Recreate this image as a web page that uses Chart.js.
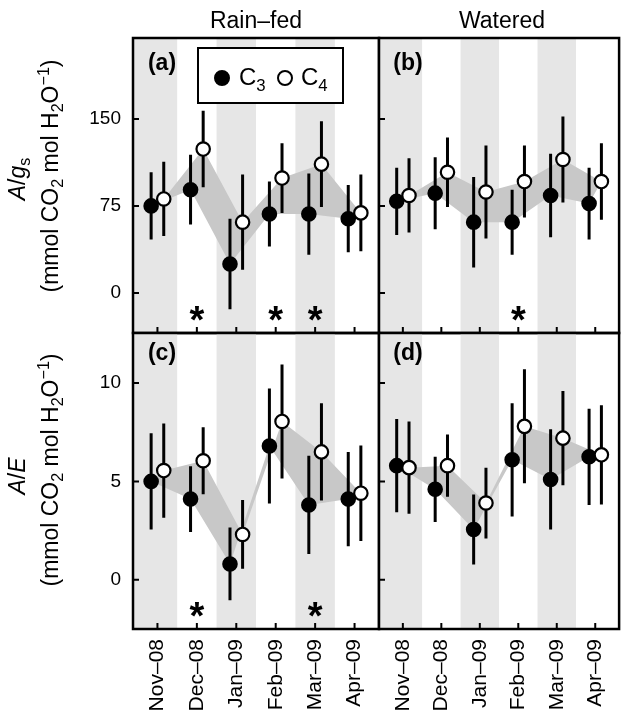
<!DOCTYPE html>
<html>
<head>
<meta charset="utf-8">
<script src="https://cdn.jsdelivr.net/npm/chart.js@4.4.0/dist/chart.umd.min.js"></script>
<style>
  body { margin: 0; background: #fff; }
  #wrap { position: relative; width: 628px; height: 719px; overflow: hidden;
          font-family: 'Liberation Sans', Arial, Helvetica, sans-serif; color: #000; }
  canvas { position: absolute; left: 0; top: 0; }
  .lbl { position: absolute; white-space: nowrap; line-height: 1; transform: translate(-50%, -50%); }
  .rot { transform: translate(-50%, -50%) rotate(-90deg); }
  .big { font-size: 23px; }
  .panel { font-size: 23px; font-weight: bold; }
  sub, sup { font-size: 70%; line-height: 0; }
  #legend { position: absolute; left: 197px; top: 47px; width: 147px; height: 57px;
            box-sizing: border-box; border: 2px solid #000; background: #fff; }
  #legend .dot { position: absolute; top: 21px; width: 16px; height: 16px; border-radius: 50%;
                 box-sizing: border-box; border: 2px solid #000; }
  #legend .txt { position: absolute; top: 16px; font-size: 24px; line-height: 1; }
</style>
</head>
<body>
<div id="wrap">
  <canvas id="chartA" width="628" height="719"></canvas>
  <canvas id="chartB" width="628" height="719"></canvas>
  <canvas id="chartC" width="628" height="719"></canvas>
  <canvas id="chartD" width="628" height="719"></canvas>

  <div class="lbl big" style="left:256px;top:20px">Rain–fed</div>
  <div class="lbl big" style="left:502px;top:20px">Watered</div>

  <div class="lbl rot big" style="left:17px;top:179px"><i>A</i>/<i>g</i><sub>s</sub></div>
  <div class="lbl rot big" style="left:50px;top:176px">(mmol CO<sub>2</sub> mol H<sub>2</sub>O<sup>−1</sup>)</div>
  <div class="lbl rot big" style="left:17px;top:476px"><i>A</i>/<i>E</i></div>
  <div class="lbl rot big" style="left:50px;top:470px">(mmol CO<sub>2</sub> mol H<sub>2</sub>O<sup>−1</sup>)</div>

  <div class="lbl panel" style="left:162px;top:62px">(a)</div>
  <div class="lbl panel" style="left:408px;top:62px">(b)</div>
  <div class="lbl panel" style="left:162px;top:352px">(c)</div>
  <div class="lbl panel" style="left:408px;top:352px">(d)</div>

  <div id="legend">
    <div class="dot" style="left:15px;background:#000"></div>
    <div class="txt" style="left:40px">C<sub>3</sub></div>
    <div class="dot" style="left:78px;background:#fff"></div>
    <div class="txt" style="left:102px">C<sub>4</sub></div>
  </div>
</div>

<script>
// month labels, and which months get a grey stripe
const months = ['Nov–08', 'Dec–08', 'Jan–09', 'Feb–09', 'Mar–09', 'Apr–09'];
const shadedMonths = [0, 2, 4];

// A/gs, rain-fed (a)
const agsRainC3 = [75, 89, 25, 68, 68, 64];
const agsRainC3Err = [29, 30, 39, 28, 35, 29];
const agsRainC4 = [81, 124, 61, 99, 111, 69];
const agsRainC4Err = [32, 33, 41, 30, 37, 33];
const agsRainStars = [1, 3, 4];

// A/gs, watered (b)
const agsWetC3 = [79, 86, 61, 61, 84, 77];
const agsWetC3Err = [29, 31, 39, 28, 36, 31];
const agsWetC4 = [84, 104, 87, 96, 115, 96];
const agsWetC4Err = [32, 30, 40, 31, 37, 33];
const agsWetStars = [3];

// A/E, rain-fed (c)
const aeRainC3 = [5.0, 4.1, 0.8, 6.8, 3.8, 4.1];
const aeRainC3Err = [2.45, 1.67, 1.85, 2.93, 2.5, 2.4];
const aeRainC4 = [5.55, 6.05, 2.3, 8.05, 6.5, 4.4];
const aeRainC4Err = [2.4, 1.7, 1.75, 2.9, 2.47, 2.43];
const aeRainStars = [1, 4];

// A/E, watered (d)
const aeWetC3 = [5.8, 4.6, 2.55, 6.1, 5.1, 6.25];
const aeWetC3Err = [2.37, 1.66, 1.78, 2.88, 2.55, 2.45];
const aeWetC4 = [5.7, 5.8, 3.9, 7.8, 7.2, 6.35];
const aeWetC4Err = [2.35, 1.58, 1.8, 2.9, 2.4, 2.52];
const aeWetStars = [];

const agsTicks = [0, 75, 150];
const aeTicks = [0, 5, 10];

const OFFSET = 0.16; // C3 sits left of the month, C4 right

Chart.defaults.font.family = "'Liberation Sans', Arial, Helvetica, sans-serif";
Chart.defaults.color = '#000';

function toPoints(vals, dx) {
  return vals.map((v, i) => ({ x: i + dx, y: v }));
}

// vertical bars, broken with null so one dataset holds them all
function toErrBars(vals, errs, dx) {
  const out = [];
  vals.forEach((v, i) => {
    out.push({ x: i + dx, y: v - errs[i] }, { x: i + dx, y: v + errs[i] }, { x: i + dx, y: null });
  });
  return out;
}

// stripes, grey band between the means, inward ticks, frame and asterisks
const panelDeco = {
  id: 'panelDeco',
  beforeDatasetsDraw(chart, args, opts) {
    const { ctx, chartArea: a, scales: { x, y } } = chart;
    ctx.save();
    ctx.fillStyle = '#e6e6e6';
    opts.shaded.forEach(i => {
      const l = Math.max(a.left, x.getPixelForValue(i === 0 ? x.min : i - 0.5));
      const r = Math.min(a.right, x.getPixelForValue(i + 0.5));
      ctx.fillRect(l, a.top, r - l, a.bottom - a.top);
    });
    ctx.fillStyle = '#c8c8c8';
    ctx.beginPath();
    opts.c3.forEach((v, i) => {
      const px = x.getPixelForValue(i - OFFSET), py = y.getPixelForValue(v);
      if (i === 0) ctx.moveTo(px, py); else ctx.lineTo(px, py);
    });
    for (let i = opts.c4.length - 1; i >= 0; i--) {
      ctx.lineTo(x.getPixelForValue(i + OFFSET), y.getPixelForValue(opts.c4[i]));
    }
    ctx.closePath();
    ctx.fill();
    ctx.restore();
  },
  afterDatasetsDraw(chart, args, opts) {
    const { ctx, chartArea: a, scales: { x, y } } = chart;
    ctx.save();
    ctx.strokeStyle = '#000';
    ctx.lineWidth = 2;
    ctx.beginPath();
    months.forEach((m, i) => {
      const px = x.getPixelForValue(i);
      ctx.moveTo(px, a.bottom);
      ctx.lineTo(px, a.bottom - 6);
    });
    opts.yTicks.forEach(v => {
      const py = y.getPixelForValue(v);
      ctx.moveTo(a.left, py);
      ctx.lineTo(a.left + 6, py);
    });
    ctx.stroke();
    ctx.lineWidth = 2.5;
    ctx.strokeRect(a.left, a.top, a.right - a.left, a.bottom - a.top);

    ctx.fillStyle = '#000';
    ctx.font = "bold 38px 'Liberation Sans', Arial, sans-serif";
    ctx.textAlign = 'center';
    ctx.textBaseline = 'alphabetic';
    const m = ctx.measureText('*');
    const shift = (m.actualBoundingBoxAscent - m.actualBoundingBoxDescent) / 2;
    opts.stars.forEach(i => {
      ctx.fillText('*', x.getPixelForValue(i), a.bottom - 20 + shift);
    });
    ctx.restore();
  }
};

function makePanel(id, cfg) {
  const datasets = [
    { data: toPoints(cfg.c4, OFFSET), order: 0, pointRadius: 6.7, pointHoverRadius: 6.7,
      pointBackgroundColor: '#fff', pointBorderColor: '#000', pointBorderWidth: 2.2 },
    { data: toErrBars(cfg.c4, cfg.c4Err, OFFSET), order: 1, showLine: true, spanGaps: false,
      borderColor: '#000', borderWidth: 3, pointRadius: 0, pointHoverRadius: 0, fill: false },
    { data: toPoints(cfg.c3, -OFFSET), order: 2, pointRadius: 6.7, pointHoverRadius: 6.7,
      pointBackgroundColor: '#000', pointBorderColor: '#000', pointBorderWidth: 2.2 },
    { data: toErrBars(cfg.c3, cfg.c3Err, -OFFSET), order: 3, showLine: true, spanGaps: false,
      borderColor: '#000', borderWidth: 3, pointRadius: 0, pointHoverRadius: 0, fill: false }
  ];
  return new Chart(document.getElementById(id), {
    type: 'scatter',
    data: { datasets },
    plugins: [panelDeco],
    options: {
      responsive: false,
      animation: false,
      devicePixelRatio: 1,
      events: [],
      layout: { padding: cfg.padding },
      plugins: {
        legend: { display: false },
        tooltip: { enabled: false },
        panelDeco: { shaded: shadedMonths, c3: cfg.c3, c4: cfg.c4, stars: cfg.stars, yTicks: cfg.yTicks }
      },
      scales: {
        x: {
          type: 'linear', min: -0.62, max: 5.62, display: cfg.showX,
          afterBuildTicks: s => { s.ticks = months.map((m, i) => ({ value: i })); },
          afterFit: s => {
            s.height = cfg.showX ? 90 : 0;
            s.paddingLeft = 0; s.paddingRight = 0;
          },
          grid: { display: false, drawTicks: false },
          border: { display: false },
          ticks: { autoSkip: false, minRotation: 90, maxRotation: 90, padding: 10,
                   font: { size: 21 }, callback: v => months[v] }
        },
        y: {
          type: 'linear', min: cfg.yMin, max: cfg.yMax, display: cfg.showY,
          afterBuildTicks: s => { s.ticks = cfg.yTicks.map(v => ({ value: v })); },
          afterFit: s => {
            s.width = cfg.showY ? 133 : 0;
            s.paddingTop = 0; s.paddingBottom = 0;
          },
          grid: { display: false, drawTicks: false },
          border: { display: false },
          ticks: { padding: 12, font: { size: 19 } }
        }
      }
    }
  });
}

makePanel('chartA', {
  c3: agsRainC3, c3Err: agsRainC3Err, c4: agsRainC4, c4Err: agsRainC4Err, stars: agsRainStars,
  yTicks: agsTicks, yMin: -34.5, yMax: 219.7, showX: false, showY: true,
  padding: { left: 0, top: 38, right: 249, bottom: 386 }
});
makePanel('chartB', {
  c3: agsWetC3, c3Err: agsWetC3Err, c4: agsWetC4, c4Err: agsWetC4Err, stars: agsWetStars,
  yTicks: agsTicks, yMin: -34.5, yMax: 219.7, showX: false, showY: false,
  padding: { left: 379, top: 38, right: 3, bottom: 386 }
});
makePanel('chartC', {
  c3: aeRainC3, c3Err: aeRainC3Err, c4: aeRainC4, c4Err: aeRainC4Err, stars: aeRainStars,
  yTicks: aeTicks, yMin: -2.51, yMax: 12.55, showX: true, showY: true,
  padding: { left: 0, top: 333, right: 249, bottom: 0 }
});
makePanel('chartD', {
  c3: aeWetC3, c3Err: aeWetC3Err, c4: aeWetC4, c4Err: aeWetC4Err, stars: aeWetStars,
  yTicks: aeTicks, yMin: -2.51, yMax: 12.55, showX: true, showY: false,
  padding: { left: 379, top: 333, right: 3, bottom: 0 }
});
</script>
</body>
</html>
